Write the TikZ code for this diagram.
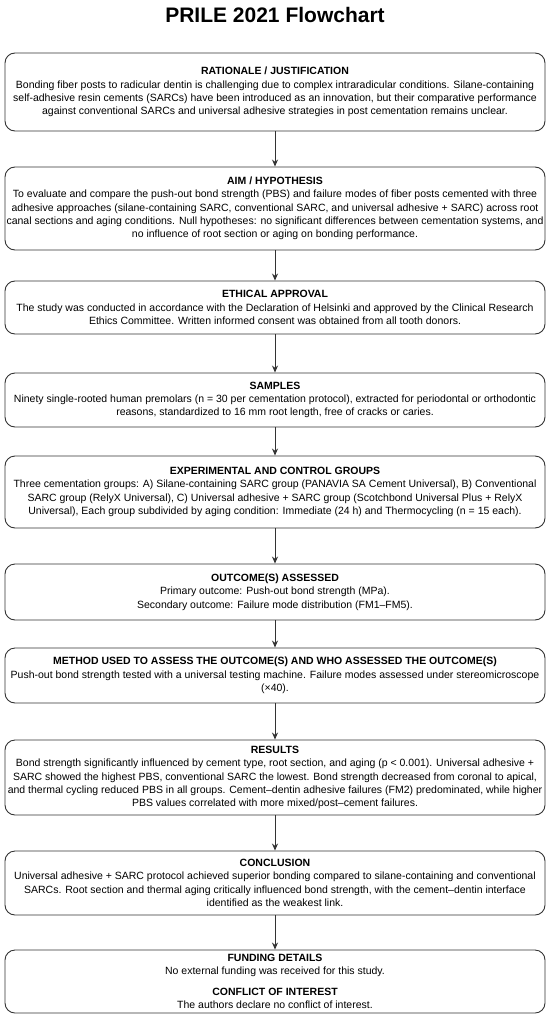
\documentclass[tikz,border=0pt]{standalone}
\usepackage{fontspec}
\setmainfont{Liberation Sans}
\usetikzlibrary{arrows.meta}
\definecolor{edge}{HTML}{333333}
\tikzset{
  box/.style={draw=edge, line width=0.9pt, rounded corners=10pt, minimum width=540pt,
    inner sep=0pt, align=center, font=\fontsize{10.5}{13.3}\selectfont, text=black},
  flow/.style={draw=edge, line width=0.9pt, -{Stealth[length=7pt,width=6pt]}},
  ttl/.style={font=\fontsize{21}{24}\selectfont\bfseries}
}
\begin{document}
\begin{tikzpicture}[x=1pt,y=1pt]
\useasboundingbox (0,0) rectangle (550,-1019);
\node[ttl] (title) at (275,-15) {PRILE 2021 Flowchart};

\node[box, minimum height=78pt] (b1) at (275,-92) {\textbf{RATIONALE / JUSTIFICATION}\\
Bonding fiber posts to radicular dentin is challenging due to complex intraradicular conditions. Silane-containing\\
self-adhesive resin cements (SARCs) have been introduced as an innovation, but their comparative performance\\
against conventional SARCs and universal adhesive strategies in post cementation remains unclear.};

\node[box, minimum height=83pt] (b2) at (275,-208.5) {\textbf{AIM / HYPOTHESIS}\\
To evaluate and compare the push-out bond strength (PBS) and failure modes of fiber posts cemented with three\\
adhesive approaches (silane-containing SARC, conventional SARC, and universal adhesive + SARC) across root\\
canal sections and aging conditions. Null hypotheses: no significant differences between cementation systems, and\\
no influence of root section or aging on bonding performance.};

\node[box, minimum height=53pt] (b3) at (275,-307.5) {\textbf{ETHICAL APPROVAL}\\
The study was conducted in accordance with the Declaration of Helsinki and approved by the Clinical Research\\
Ethics Committee. Written informed consent was obtained from all tooth donors.};

\node[box, minimum height=54pt] (b4) at (275,-400) {\textbf{SAMPLES}\\
Ninety single-rooted human premolars (n = 30 per cementation protocol), extracted for periodontal or orthodontic\\
reasons, standardized to 16 mm root length, free of cracks or caries.};

\node[box, minimum height=72pt] (b5) at (275,-492) {\textbf{EXPERIMENTAL AND CONTROL GROUPS}\\
Three cementation groups: A) Silane-containing SARC group (PANAVIA SA Cement Universal), B) Conventional\\
SARC group (RelyX Universal), C) Universal adhesive + SARC group (Scotchbond Universal Plus + RelyX\\
Universal), Each group subdivided by aging condition: Immediate (24 h) and Thermocycling (n = 15 each).};

\node[box, minimum height=56pt] (b6) at (275,-592) {\textbf{OUTCOME(S) ASSESSED}\\
Primary outcome: Push-out bond strength (MPa).\\
Secondary outcome: Failure mode distribution (FM1–FM5).};

\node[box, minimum height=55pt] (b7) at (275,-675.5) {\textbf{METHOD USED TO ASSESS THE OUTCOME(S) AND WHO ASSESSED THE OUTCOME(S)}\\
Push-out bond strength tested with a universal testing machine. Failure modes assessed under stereomicroscope\\
(×40).};

\node[box, minimum height=75pt] (b8) at (275,-777.5) {\textbf{RESULTS}\\
Bond strength significantly influenced by cement type, root section, and aging (p < 0.001). Universal adhesive +\\
SARC showed the highest PBS, conventional SARC the lowest. Bond strength decreased from coronal to apical,\\
and thermal cycling reduced PBS in all groups. Cement–dentin adhesive failures (FM2) predominated, while higher\\
PBS values correlated with more mixed/post–cement failures.};

\node[box, minimum height=64pt] (b9) at (275,-883) {\textbf{CONCLUSION}\\
Universal adhesive + SARC protocol achieved superior bonding compared to silane-containing and conventional\\
SARCs. Root section and thermal aging critically influenced bond strength, with the cement–dentin interface\\
identified as the weakest link.};

\node[box, minimum height=63pt] (b10) at (275,-981.5) {\textbf{FUNDING DETAILS}\\
No external funding was received for this study.\\[7pt]
\textbf{CONFLICT OF INTEREST}\\
The authors declare no conflict of interest.};

\foreach \a/\b in {b1/b2,b2/b3,b3/b4,b4/b5,b5/b6,b6/b7,b7/b8,b8/b9,b9/b10}
  \draw[flow] (\a.south) -- (\b.north);
\end{tikzpicture}
\end{document}
